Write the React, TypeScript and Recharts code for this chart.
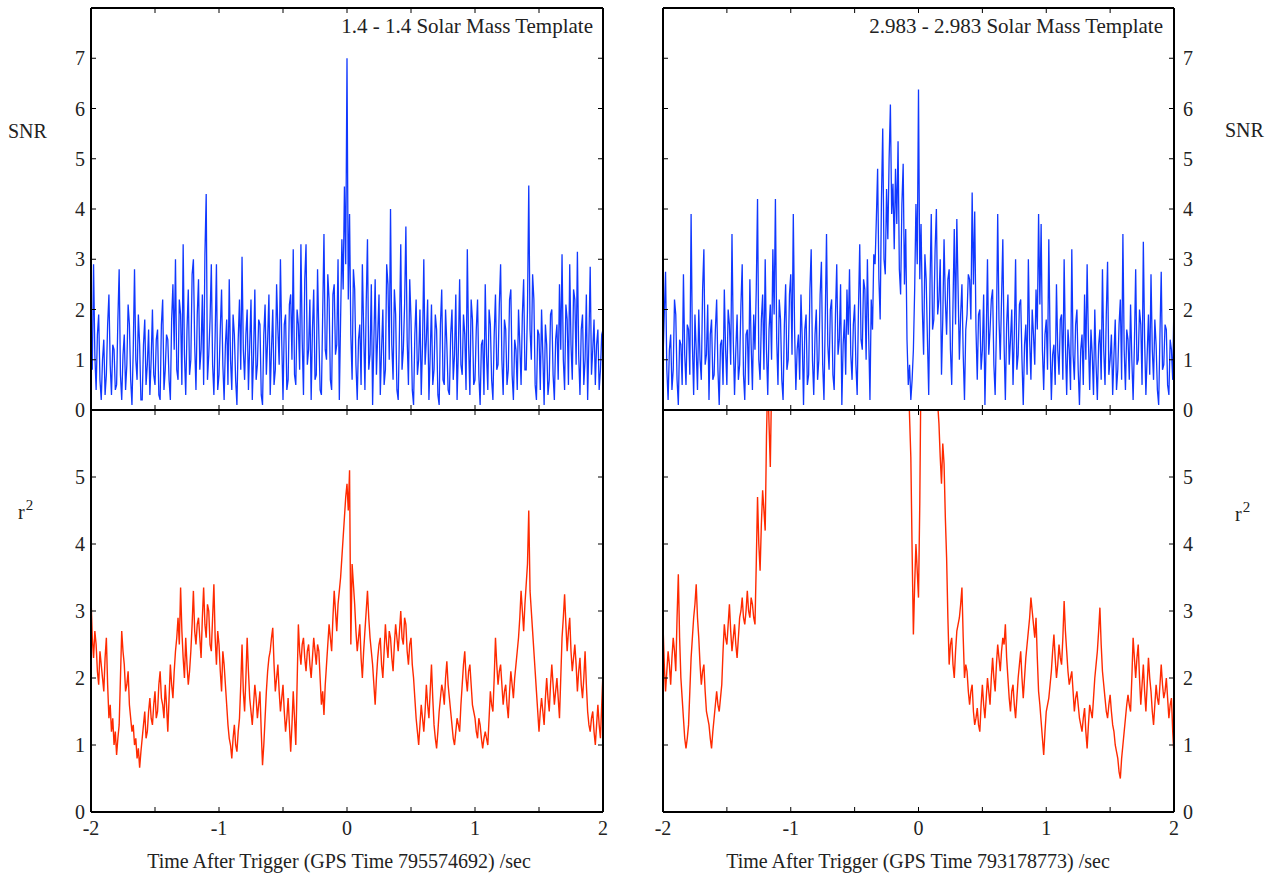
import React from "react";
import { LineChart, Line, XAxis, YAxis } from "recharts";

// samples every 0.01 s, time after trigger
const T_STEP = 0.01;

const X_TICKS = [-2, -1.5, -1, -0.5, 0, 0.5, 1, 1.5, 2];
const X_LABELS = [-2, -1, 0, 1, 2];
const SNR_TICKS = [0, 1, 2, 3, 4, 5, 6, 7, 8];
const SNR_LABELS = [0, 1, 2, 3, 4, 5, 6, 7];
const R2_TICKS = [0, 1, 2, 3, 4, 5, 6];
const R2_LABELS = [0, 1, 2, 3, 4, 5];

const TITLES = ["1.4 - 1.4 Solar Mass Template", "2.983 - 2.983 Solar Mass Template"];
const GPS = ["795574692", "793178773"];

// 1.4 - 1.4 template, t = -2 .. 2
const snrLeft = [
  1.6, 0.8, 2.9, 1.1, 0.4, 1.5, 1.9, 0.6, 0.2, 1.0, 1.4, 0.3, 0.7, 1.7, 2.3, 0.9, 0.3, 1.3, 1.2, 0.4,
  0.5, 1.8, 2.8, 0.7, 0.2, 1.1, 1.5, 0.4, 0.9, 2.1, 1.7, 0.6, 0.1, 1.2, 2.8, 1.0, 0.6, 1.9, 1.3, 0.2,
  0.2, 1.3, 1.8, 0.5, 0.9, 1.6, 0.3, 1.0, 2.0, 0.7, 0.5, 1.4, 1.6, 0.3, 0.2, 1.7, 2.2, 0.4, 0.8, 1.5,
  1.4, 0.6, 0.2, 1.8, 2.5, 1.2, 3.0, 0.8, 0.6, 2.2, 1.9, 0.5, 3.3, 1.1, 0.3, 1.6, 2.4, 0.7, 1.0, 2.7,
  3.0, 1.3, 0.4, 1.9, 2.6, 0.8, 1.2, 2.3, 0.5, 3.1, 4.3, 0.6, 1.1, 1.8, 2.9, 0.9, 0.3, 1.5, 2.9, 0.4,
  0.7, 1.6, 2.4, 0.9, 0.2, 1.3, 1.8, 0.5, 2.6, 1.0, 0.4, 1.9, 1.5, 0.6, 0.1, 1.4, 2.2, 0.8, 3.05, 1.2,
  0.6, 1.5, 2.0, 0.4, 1.3, 2.2, 0.2, 1.1, 2.4, 0.6, 0.9, 1.8, 1.7, 0.3, 0.1, 1.5, 2.1, 0.7, 1.4, 2.3,
  0.3, 1.2, 2.0, 0.5, 0.8, 2.5, 1.6, 0.9, 3.0, 1.4, 0.2, 1.7, 1.9, 0.4, 0.6, 2.1, 2.3, 1.0, 3.2, 0.7,
  0.5, 2.0, 1.7, 0.8, 3.3, 1.4, 0.3, 2.6, 3.3, 0.9, 1.2, 2.2, 0.2, 1.6, 2.4, 0.6, 0.7, 2.8, 1.5, 0.4,
  0.3, 1.9, 3.5, 1.2, 1.0, 2.7, 2.2, 0.6, 0.4, 2.3, 2.5, 1.1, 1.3, 3.0, 0.2, 1.8, 3.4, 2.4, 4.45, 2.9,
  7.0, 2.2, 3.9, 1.5, 0.6, 2.8, 2.4, 0.9, 0.2, 1.4, 1.7, 0.5, 2.9, 1.6, 0.4, 2.1, 3.4, 0.8, 1.1, 2.5,
  0.1, 1.4, 2.6, 0.7, 1.5, 2.3, 0.3, 1.2, 2.0, 0.5, 0.8, 2.9, 2.5, 1.0, 4.0, 1.3, 0.6, 2.4, 1.9, 0.4,
  0.2, 1.6, 3.3, 0.8, 1.2, 2.1, 3.65, 1.4, 0.5, 2.6, 1.8, 0.4, 0.1, 1.5, 2.2, 0.7, 1.0, 2.0, 0.3, 1.3,
  3.0, 0.9, 1.4, 2.2, 0.2, 1.1, 2.1, 0.5, 0.8, 1.9, 1.6, 0.3, 0.1, 1.7, 2.4, 0.6, 0.5, 2.0, 1.3, 0.4,
  0.3, 1.5, 2.0, 0.6, 1.1, 2.3, 0.2, 1.2, 2.6, 0.9, 0.7, 1.9, 1.5, 0.4, 3.2, 1.3, 0.3, 2.2, 1.8, 0.5,
  0.6, 1.6, 2.2, 0.7, 0.1, 1.3, 1.4, 0.3, 2.5, 1.1, 0.4, 2.0, 1.7, 0.6, 0.2, 1.5, 2.3, 0.8, 0.9, 2.1,
  2.9, 1.0, 0.3, 1.8, 1.6, 0.5, 0.8, 2.2, 2.4, 0.7, 0.2, 1.4, 1.2, 0.4, 2.0, 1.3, 0.5, 1.9, 2.6, 0.8,
  0.8, 2.0, 4.47, 1.6, 1.0, 2.7, 2.2, 0.5, 0.2, 1.6, 1.5, 0.4, 2.0, 1.1, 0.1, 1.7, 1.3, 0.3, 0.6, 1.9,
  2.0, 0.7, 0.2, 1.4, 1.7, 0.6, 2.5, 1.2, 3.1, 1.0, 0.4, 2.1, 1.8, 0.5, 2.9, 1.3, 0.6, 2.4, 2.2, 0.9,
  3.15, 1.1, 0.3, 1.6, 1.9, 0.5, 1.0, 2.3, 0.2, 1.4, 2.85, 0.7, 1.2, 1.8, 0.5, 1.3, 1.6, 0.4, 0.8, 1.5,
  1.6,
];

const r2Left = [
  3.2, 2.6, 2.3, 2.7, 2.5, 2.1, 1.9, 2.4, 2.2, 2.0, 1.8, 2.3, 2.6, 1.9, 1.4, 1.6, 1.2, 1.4, 1.0, 1.2,
  0.85, 1.1, 1.3, 2.0, 2.7, 2.4, 2.2, 1.8, 1.9, 2.1, 1.6, 1.4, 1.2, 1.3, 1.0, 1.1, 0.8, 0.95, 0.66, 0.9,
  1.1, 1.3, 1.5, 1.1, 1.2, 1.5, 1.7, 1.4, 1.3, 1.6, 1.8, 1.4, 1.5, 1.9, 2.1, 1.7, 1.6, 1.4, 1.9, 1.6,
  1.2, 1.7, 2.2, 1.9, 1.7, 2.1, 2.4, 2.6, 2.9, 2.5, 3.35, 2.7, 2.3, 2.0, 2.6, 2.2, 1.9, 2.1, 2.4, 2.8,
  3.3, 2.7, 2.5, 2.8, 2.9, 2.6, 2.3, 2.9, 3.35, 2.8, 2.6, 3.1, 3.0, 2.5, 2.4, 2.9, 3.4, 2.6, 2.2, 2.7,
  2.5, 2.1, 1.8, 2.4, 2.2, 1.9, 1.6, 1.3, 1.1, 1.0, 0.8, 1.1, 1.3, 1.0, 0.9, 1.2, 1.4, 1.9, 2.5, 1.8,
  1.5, 2.0, 2.6, 2.1, 1.7, 1.5, 1.3, 1.6, 1.9, 1.7, 1.4, 1.6, 1.8, 1.2, 0.7, 1.0, 1.4, 1.8, 2.1, 2.3,
  2.4, 2.6, 2.75, 2.2, 1.8, 2.0, 2.2, 1.8, 1.5, 1.7, 1.9, 1.5, 1.2, 1.4, 1.7, 1.3, 0.9, 1.3, 1.8, 1.4,
  1.0, 1.9, 2.8, 2.4, 2.2, 2.5, 2.6, 2.3, 2.1, 2.4, 2.5, 2.2, 2.0, 2.3, 2.6, 2.4, 2.2, 2.5, 2.4, 2.0,
  1.6, 1.8, 1.45, 1.9, 2.2, 2.5, 2.8, 2.6, 2.4, 2.9, 3.3, 3.0, 2.7, 3.1, 3.3, 3.5, 3.8, 4.1, 4.4, 4.7,
  4.9, 4.5, 5.1, 2.5, 3.7, 3.4, 3.1, 2.7, 2.4, 2.6, 2.8, 2.3, 2.0, 2.4, 2.7, 3.0, 3.3, 2.9, 2.6, 2.4,
  2.2, 1.9, 1.6, 2.0, 2.3, 2.5, 2.6, 2.2, 2.0, 2.4, 2.8, 2.5, 2.3, 2.7, 2.6, 2.3, 2.1, 2.5, 2.8, 2.6,
  2.4, 2.7, 3.0, 2.6, 2.5, 2.9, 2.8, 2.4, 2.2, 2.5, 2.6, 2.2, 2.0, 1.7, 1.4, 1.2, 1.0, 1.3, 1.6, 1.4,
  1.2, 1.5, 1.9, 1.6, 1.4, 1.8, 2.2, 1.7, 1.3, 1.1, 0.95, 1.2, 1.5, 1.7, 1.9, 1.8, 1.6, 2.0, 2.25, 1.9,
  1.7, 1.5, 1.3, 1.1, 1.0, 1.2, 1.4, 1.3, 1.2, 1.6, 1.9, 2.2, 2.4, 2.0, 1.8, 2.1, 2.2, 1.9, 1.6, 1.5,
  1.4, 1.2, 1.1, 1.4, 1.3, 1.1, 0.95, 1.1, 1.2, 1.1, 1.0, 1.4, 1.8, 1.6, 1.5, 2.0, 2.6, 2.2, 1.9, 2.1,
  2.2, 1.9, 1.6, 1.8, 1.9, 1.6, 1.4, 1.8, 2.1, 1.9, 1.7, 2.0, 2.2, 2.4, 2.6, 2.9, 3.3, 3.0, 2.7, 3.1,
  3.4, 3.7, 4.5, 3.3, 3.0, 2.7, 2.4, 2.1, 1.8, 1.5, 1.2, 1.5, 1.7, 1.5, 1.3, 1.7, 2.0, 1.7, 1.5, 1.9,
  2.2, 1.9, 1.6, 1.8, 2.0, 1.7, 1.4, 2.0, 2.6, 2.9, 3.25, 2.8, 2.4, 2.7, 2.9, 2.4, 2.1, 2.3, 2.5, 2.2,
  1.8, 2.1, 2.3, 1.9, 1.7, 2.0, 2.4, 1.9, 1.5, 1.3, 1.2, 1.4, 1.5, 1.2, 1.0, 1.3, 1.6, 1.3, 1.1, 1.6,
  2.1,
];

// 2.983 - 2.983 template, t = -2 .. 2
const snrRight = [
  1.0, 1.9, 2.75, 0.8, 0.2, 1.2, 1.5, 0.4, 0.8, 2.2, 1.9, 0.6, 0.1, 1.4, 1.3, 0.5, 2.7, 1.1, 0.5, 1.7,
  1.6, 0.7, 3.9, 1.3, 0.3, 1.9, 1.2, 0.4, 2.0, 1.0, 0.6, 2.4, 3.2, 0.9, 1.1, 2.1, 0.2, 1.5, 1.8, 0.6,
  0.7, 1.6, 2.2, 0.8, 0.1, 1.3, 1.4, 0.5, 2.4, 1.2, 0.5, 2.0, 1.7, 0.9, 3.5, 1.4, 0.3, 1.2, 1.9, 0.6,
  0.9, 2.1, 2.9, 0.7, 0.2, 1.5, 1.6, 0.5, 2.6, 1.3, 0.4, 1.9, 1.2, 2.4, 4.2, 1.0, 0.6, 1.8, 2.3, 0.8,
  3.0, 1.2, 0.3, 1.6, 2.1, 1.0, 3.2, 1.9, 4.2, 1.4, 0.5, 2.2, 1.8, 0.6, 0.2, 1.7, 2.5, 0.8, 1.0, 2.3,
  2.7, 1.1, 3.9, 1.6, 0.4, 1.2, 1.5, 0.6, 2.3, 1.4, 0.1, 1.6, 1.9, 0.5, 0.7, 2.4, 3.2, 1.0, 0.3, 1.5,
  2.0, 0.6, 1.0, 2.3, 2.95, 0.9, 0.2, 1.8, 3.5, 1.3, 0.8, 2.0, 2.2, 0.7, 0.4, 1.9, 2.9, 1.1, 1.4, 2.5,
  0.1, 1.3, 1.8, 0.7, 2.4, 1.5, 2.8, 1.1, 0.6, 1.7, 2.1, 0.9, 0.3, 2.0, 3.3, 1.4, 1.2, 2.6, 2.4, 1.0,
  3.0, 1.5, 0.2, 2.2, 1.6, 3.1, 2.9, 3.8, 4.8, 2.6, 1.8, 4.2, 5.6, 3.0, 2.7, 4.4, 3.4, 5.0, 6.08, 3.9,
  4.5, 3.2, 4.8, 3.7, 5.35, 2.8, 2.3, 4.1, 4.9, 2.5, 3.6, 1.4, 0.5, 0.9, 0.2, 0.6, 1.2, 2.4, 4.1, 2.9,
  6.38, 2.6, 3.7, 2.0, 1.1, 3.1, 2.6, 1.4, 0.3, 2.5, 3.9, 1.6, 1.8, 3.2, 4.0, 1.9, 2.2, 3.0, 0.7, 1.8,
  3.4, 2.2, 1.5, 2.6, 2.8, 1.2, 0.5, 2.1, 3.6, 1.7, 3.8, 2.4, 1.0, 1.9, 2.5, 1.1, 0.2, 1.6, 1.9, 2.7,
  2.6, 1.8, 4.33, 2.5, 3.95, 1.6, 0.6, 1.9, 2.0, 0.8, 1.2, 2.3, 0.1, 1.4, 3.0, 1.1, 1.6, 2.2, 2.4, 0.9,
  0.3, 1.6, 3.9, 1.8, 1.0, 2.2, 3.4, 1.3, 0.2, 1.7, 2.3, 0.9, 1.4, 2.0, 0.5, 1.5, 3.0, 0.8, 1.1, 2.1,
  2.2, 1.0, 0.1, 1.3, 1.7, 0.7, 3.0, 1.4, 0.6, 2.0, 1.5, 0.9, 2.4, 1.6, 3.9, 2.1, 3.7, 1.2, 0.4, 1.5,
  1.8, 0.8, 3.4, 1.4, 0.2, 1.1, 1.3, 0.5, 2.5, 1.2, 0.7, 1.8, 1.9, 0.6, 3.0, 1.3, 0.3, 1.6, 1.2, 0.4,
  3.2, 1.1, 0.6, 1.7, 2.0, 0.8, 0.1, 1.2, 1.5, 0.5, 2.3, 1.0, 2.9, 1.4, 0.4, 1.6, 1.1, 0.3, 2.0, 0.9,
  0.2, 1.3, 1.6, 0.6, 2.8, 1.2, 0.5, 1.9, 2.95, 0.7, 1.0, 1.5, 0.3, 1.1, 1.8, 0.4, 0.8, 1.7, 2.2, 0.6,
  3.5, 1.2, 0.4, 1.6, 1.4, 0.6, 2.1, 1.0, 0.2, 1.3, 2.8, 0.9, 1.0, 2.0, 1.7, 0.5, 3.35, 1.4, 0.3, 1.1,
  1.9, 0.7, 2.7, 1.2, 0.6, 1.8, 1.3, 0.4, 0.1, 1.5, 2.75, 0.8, 0.9, 1.7, 1.6, 0.5, 0.3, 1.4, 1.2, 0.6,
  2.2,
];

// r^2 runs off the top of the scale twice; only the on-scale stretches are kept
const r2RightA = [ // from t = -2.00
  2.8, 2.2, 1.8, 2.1, 2.4, 2.2, 1.9, 2.3, 2.6, 2.4, 2.1, 2.9, 3.55, 2.6, 2.0, 1.7, 1.4, 1.1, 0.95, 1.1,
  1.3, 1.8, 2.3, 2.6, 2.9, 3.1, 3.4, 2.9, 2.6, 2.2, 1.9, 2.1, 2.2, 1.8, 1.5, 1.4, 1.3, 1.1, 0.95, 1.2,
  1.4, 1.6, 1.8, 1.6, 1.5, 1.7, 1.9, 2.4, 2.8, 2.6, 2.5, 2.8, 3.1, 2.7, 2.4, 2.6, 2.8, 2.5, 2.3, 2.6,
  2.9, 3.0, 3.2, 2.9, 2.8, 3.0, 3.3, 3.0, 2.9, 3.2, 3.1, 2.9, 2.8, 3.7, 4.7, 4.0, 3.6, 4.3, 4.8, 4.5,
  4.2, 5.6, 6.5, 5.8, 5.15, 6.4, 7.5, 8.4,
];
const r2RightB = [ // from t = -0.09
  7.4, 6.6, 5.9, 5.3, 3.9, 2.65, 3.4, 4.0, 3.6, 3.2, 4.6, 6.8, 8.0,
];
const r2RightC = [ // from t = 0.13
  7.2, 6.5, 6.1, 5.8, 5.3, 4.9, 5.5,
  5.2, 4.4, 3.8, 2.9, 2.2, 2.5, 2.6, 2.2, 2.0, 2.4, 2.7, 2.8, 2.9, 3.1, 3.35, 2.6, 2.0, 2.2, 2.1, 1.8,
  1.6, 1.8, 1.9, 1.5, 1.3, 1.4, 1.55, 1.3, 1.2, 1.6, 1.9, 1.6, 1.4, 1.7, 2.0, 1.8, 1.6, 2.0, 2.3, 2.0,
  1.8, 2.2, 2.5, 2.3, 2.1, 2.4, 2.6, 2.5, 2.8, 2.3, 2.0, 1.7, 1.5, 1.8, 1.9, 1.6, 1.4, 1.7, 2.0, 2.2,
  2.4, 2.0, 1.7, 2.0, 2.3, 2.5, 2.7, 2.9, 3.2, 3.0, 2.8, 2.6, 2.9, 2.3, 1.8, 1.6, 1.35, 1.1, 0.85, 1.2,
  1.5, 1.6, 1.7, 1.9, 2.1, 2.4, 2.65, 2.3, 2.0, 2.2, 2.5, 2.3, 2.2, 2.6, 3.15, 2.7, 2.4, 2.1, 1.9, 2.0,
  2.1, 1.8, 1.5, 1.7, 1.8, 1.6, 1.4, 1.3, 1.2, 1.4, 1.55, 1.2, 0.95, 1.3, 1.6, 1.5, 1.4, 1.7, 2.0, 2.2,
  2.4, 2.7, 3.05, 2.5, 2.1, 1.9, 1.7, 1.5, 1.4, 1.6, 1.75, 1.5, 1.3, 1.2, 1.0, 0.9, 0.8, 0.6, 0.5, 0.8,
  1.0, 1.2, 1.4, 1.6, 1.75, 1.6, 1.5, 2.0, 2.6, 2.3, 2.0, 2.3, 2.5, 2.0, 1.6, 1.9, 2.2, 1.8, 1.5, 1.9,
  2.3, 2.0, 1.8, 1.5, 1.3, 1.6, 1.9, 1.7, 1.6, 1.9, 2.2, 1.9, 1.7, 1.8, 2.0, 1.7, 1.4, 1.6, 1.7, 1.2,
  0.85,
];

const FONT = "'Liberation Serif', 'Times New Roman', serif";
const INK = "#222";
const BLUE = "#1038ff";
const RED = "#ff2a00";
const TICK = 5;

type Row = { t: number; v: number | null };

const run = (start: number, vals: number[]): Row[] =>
  vals.map((v, i) => ({ t: +(start + i * T_STEP).toFixed(2), v }));

const snrLeftRows = run(-2, snrLeft);
const r2LeftRows = run(-2, r2Left);
const snrRightRows = run(-2, snrRight);
const r2RightRows: Row[] = [
  ...run(-2, r2RightA),
  { t: -0.6, v: null },
  ...run(-0.09, r2RightB),
  { t: 0.08, v: null },
  ...run(0.13, r2RightC),
];

// tick marks point into the plot, labels sit outside
function tickFor(side: string, labels: number[]) {
  return (p: any) => {
    const { x, y, payload } = p;
    const val = payload.value;
    const show = labels.includes(val);
    const ts = { fill: INK, fontFamily: FONT, fontSize: 20 };
    if (side === "left")
      return (
        <g>
          <line x1={x} y1={y} x2={x + TICK} y2={y} stroke="#000" />
          {show && <text x={x - 6} y={y + 7} textAnchor="end" {...ts}>{val}</text>}
        </g>
      );
    if (side === "right")
      return (
        <g>
          <line x1={x} y1={y} x2={x - TICK} y2={y} stroke="#000" />
          {show && <text x={x + 9} y={y + 7} textAnchor="start" {...ts}>{val}</text>}
        </g>
      );
    if (side === "bottom")
      return (
        <g>
          <line x1={x} y1={y} x2={x} y2={y - TICK} stroke="#000" />
          {show && <text x={x} y={y + 23} textAnchor="middle" {...ts}>{val}</text>}
        </g>
      );
    return (
      <g>
        <line x1={x} y1={y} x2={x} y2={y + TICK} stroke="#000" />
      </g>
    );
  };
}

type PanelProps = {
  left: number;
  top: number;
  width: number;
  height: number;
  marginTop: number;
  marginBottom: number;
  leftW: number;
  rightW: number;
  bottomH: number;
  data: Row[];
  color: string;
  strokeWidth: number;
  domain: [number, number];
  ticks: number[];
  labels: number[];
  labelSide: "left" | "right";
  xLabels: boolean;
};

function Panel(p: PanelProps) {
  const axisLine = { stroke: "#000", strokeWidth: 2 };
  return (
    <div style={{ position: "absolute", left: p.left, top: p.top }}>
      <LineChart
        width={p.width}
        height={p.height}
        data={p.data}
        margin={{ top: p.marginTop, right: 0, bottom: p.marginBottom, left: 0 }}
      >
        <XAxis
          xAxisId="b"
          dataKey="t"
          type="number"
          domain={[-2, 2]}
          ticks={X_TICKS}
          interval={0}
          allowDataOverflow
          height={p.bottomH}
          tickSize={0}
          tickMargin={0}
          tickLine={false}
          axisLine={axisLine}
          tick={tickFor("bottom", p.xLabels ? X_LABELS : [])}
        />
        <XAxis
          xAxisId="t"
          orientation="top"
          dataKey="t"
          type="number"
          domain={[-2, 2]}
          ticks={X_TICKS}
          interval={0}
          allowDataOverflow
          height={1}
          tickSize={0}
          tickMargin={0}
          tickLine={false}
          axisLine={axisLine}
          tick={tickFor("top", [])}
        />
        <YAxis
          yAxisId="l"
          type="number"
          domain={p.domain}
          ticks={p.ticks}
          interval={0}
          allowDataOverflow
          width={p.leftW}
          tickSize={0}
          tickMargin={0}
          tickLine={false}
          axisLine={axisLine}
          tick={tickFor("left", p.labelSide === "left" ? p.labels : [])}
        />
        <YAxis
          yAxisId="r"
          orientation="right"
          type="number"
          domain={p.domain}
          ticks={p.ticks}
          interval={0}
          allowDataOverflow
          width={p.rightW}
          tickSize={0}
          tickMargin={0}
          tickLine={false}
          axisLine={axisLine}
          tick={tickFor("right", p.labelSide === "right" ? p.labels : [])}
        />
        <Line
          xAxisId="b"
          yAxisId="l"
          dataKey="v"
          type="linear"
          stroke={p.color}
          strokeWidth={p.strokeWidth}
          dot={false}
          isAnimationActive={false}
        />
      </LineChart>
    </div>
  );
}

export default function App() {
  const txt = { fill: INK, fontFamily: FONT, fontSize: 20 };
  return (
    <div style={{ position: "absolute", left: 0, top: 0, width: 1287, height: 879, background: "#fff" }}>
      <Panel left={0} top={0} width={620} height={420} marginTop={7} marginBottom={9}
        leftW={91} rightW={17} bottomH={1} data={snrLeftRows} color={BLUE} strokeWidth={1.3}
        domain={[0, 8]} ticks={SNR_TICKS} labels={SNR_LABELS} labelSide="left" xLabels={false} />
      <Panel left={0} top={400} width={620} height={479} marginTop={9} marginBottom={0}
        leftW={91} rightW={17} bottomH={67} data={r2LeftRows} color={RED} strokeWidth={1.4}
        domain={[0, 6]} ticks={R2_TICKS} labels={R2_LABELS} labelSide="left" xLabels />
      <Panel left={640} top={0} width={647} height={420} marginTop={7} marginBottom={9}
        leftW={23} rightW={113} bottomH={1} data={snrRightRows} color={BLUE} strokeWidth={1.3}
        domain={[0, 8]} ticks={SNR_TICKS} labels={SNR_LABELS} labelSide="right" xLabels={false} />
      <Panel left={640} top={400} width={647} height={479} marginTop={9} marginBottom={0}
        leftW={23} rightW={113} bottomH={67} data={r2RightRows} color={RED} strokeWidth={1.4}
        domain={[0, 6]} ticks={R2_TICKS} labels={R2_LABELS} labelSide="right" xLabels />
      <svg width={1287} height={879} style={{ position: "absolute", left: 0, top: 0, pointerEvents: "none" }}>
        <text x={593} y={33} textAnchor="end" {...txt} fontSize={21}>{TITLES[0]}</text>
        <text x={1163} y={33} textAnchor="end" {...txt} fontSize={21}>{TITLES[1]}</text>
        <text x={8} y={138} {...txt}>SNR</text>
        <text x={1225} y={137} {...txt}>SNR</text>
        <text x={18} y={519} {...txt}>r<tspan dx={1} dy={-9} fontSize={15}>2</tspan></text>
        <text x={1235} y={521} {...txt}>r<tspan dx={1} dy={-9} fontSize={15}>2</tspan></text>
        <text x={339} y={868} textAnchor="middle" {...txt}>{`Time After Trigger (GPS Time ${GPS[0]}) /sec`}</text>
        <text x={918} y={868} textAnchor="middle" {...txt}>{`Time After Trigger (GPS Time ${GPS[1]}) /sec`}</text>
      </svg>
    </div>
  );
}
